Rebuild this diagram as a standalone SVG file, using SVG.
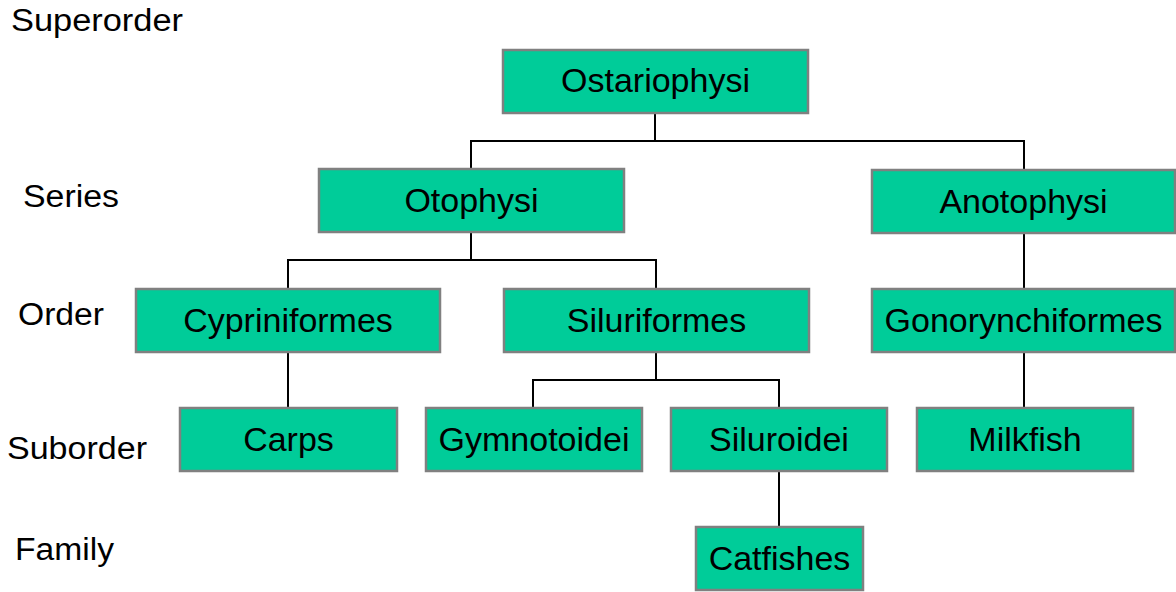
<svg xmlns="http://www.w3.org/2000/svg" width="1176" height="592" viewBox="0 0 1176 592">
<style>
.box{fill:#00CC99;stroke:#808080;stroke-width:2.5}
.t{font-family:"Liberation Sans",Arial,sans-serif;font-size:34px;fill:#000;text-anchor:middle}
.lab{font-family:"Liberation Sans",Arial,sans-serif;font-size:31px;fill:#000}
.c{fill:none;stroke:#000;stroke-width:2}
</style>
<rect width="1176" height="592" fill="#fff"/>
<g id="labels">
<text class="lab" x="11" y="31" textLength="172" lengthAdjust="spacingAndGlyphs">Superorder</text>
<text class="lab" x="23" y="207" textLength="96" lengthAdjust="spacingAndGlyphs">Series</text>
<text class="lab" x="18" y="325" textLength="86" lengthAdjust="spacingAndGlyphs">Order</text>
<text class="lab" x="7" y="459" textLength="140" lengthAdjust="spacingAndGlyphs">Suborder</text>
<text class="lab" x="15" y="560" textLength="99" lengthAdjust="spacingAndGlyphs">Family</text>
</g>
<g id="connectors">
<path class="c" d="M655,113V141M471,169V141H1024V170"/>
<path class="c" d="M471,232V260M288,289V260H656V289"/>
<path class="c" d="M1024,233V289"/>
<path class="c" d="M656,352V380M533,408V380H779V408"/>
<path class="c" d="M288,352V408"/>
<path class="c" d="M1024,352V408"/>
<path class="c" d="M779,471V527"/>
</g>
<g id="ostariophysi"><rect class="box" x="503" y="50" width="305" height="63"/><text class="t" x="655.5" y="92">Ostariophysi</text></g>
<g id="otophysi"><rect class="box" x="319" y="169" width="305" height="63"/><text class="t" x="471.5" y="212">Otophysi</text></g>
<g id="anotophysi"><rect class="box" x="872" y="170" width="303" height="63"/><text class="t" x="1023.5" y="213">Anotophysi</text></g>
<g id="cypriniformes"><rect class="box" x="136" y="289" width="304" height="63"/><text class="t" x="288" y="332">Cypriniformes</text></g>
<g id="siluriformes"><rect class="box" x="504" y="289" width="305" height="63"/><text class="t" x="656.5" y="332">Siluriformes</text></g>
<g id="gonorynchiformes"><rect class="box" x="872" y="289" width="303" height="63"/><text class="t" x="1023.5" y="332">Gonorynchiformes</text></g>
<g id="carps"><rect class="box" x="180" y="408" width="217" height="63"/><text class="t" x="288.5" y="451">Carps</text></g>
<g id="gymnotoidei"><rect class="box" x="426" y="408" width="216" height="63"/><text class="t" x="534" y="451">Gymnotoidei</text></g>
<g id="siluroidei"><rect class="box" x="671" y="408" width="216" height="63"/><text class="t" x="779" y="451">Siluroidei</text></g>
<g id="milkfish"><rect class="box" x="917" y="408" width="216" height="63"/><text class="t" x="1025" y="451">Milkfish</text></g>
<g id="catfishes"><rect class="box" x="696" y="527" width="167" height="63"/><text class="t" x="779.5" y="570">Catfishes</text></g>
</svg>
